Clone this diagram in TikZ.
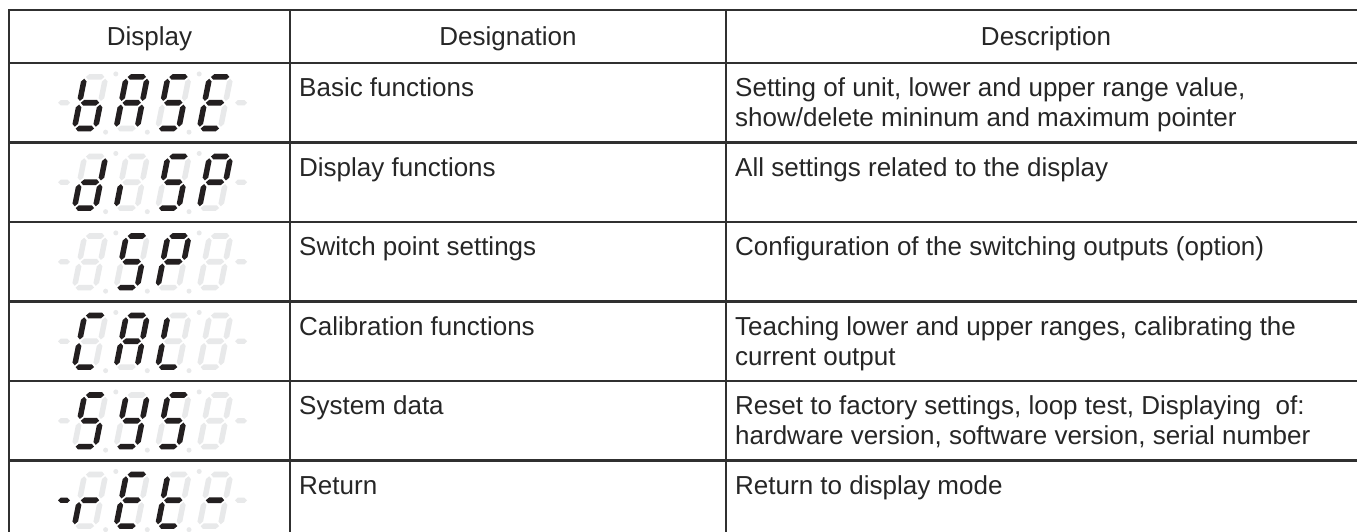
\documentclass[tikz,border=0pt]{standalone}
\usepackage{fontspec}
\setmainfont{Liberation Sans}
\definecolor{linec}{HTML}{303030}
\definecolor{txtc}{HTML}{262626}
\definecolor{segdark}{HTML}{231F20}
\definecolor{seglight}{HTML}{E8E9EA}
\makeatletter
\newcommand\segfill[3]{%
  \in@{#1}{#2}\ifin@\def\sgc{segdark}\else\def\sgc{seglight}\fi
  \fill[fill=\sgc] #3;}
\makeatother
\newcommand\sevseg[2]{%
  \begin{scope}[shift={(#1,0)},xslant=0.2]
    \segfill{a}{#2}{(-9.2,-25.8) -- (-6.4,-28.6) -- (6.4,-28.6) -- (9.2,-25.8) -- (6.4,-23.0) -- (-6.4,-23.0) -- cycle}
    \segfill{g}{#2}{(-9.2,0) -- (-6.4,-2.8) -- (6.4,-2.8) -- (9.2,0) -- (6.4,2.8) -- (-6.4,2.8) -- cycle}
    \segfill{d}{#2}{(-9.2,25.8) -- (-6.4,23.0) -- (6.4,23.0) -- (9.2,25.8) -- (6.4,28.6) -- (-6.4,28.6) -- cycle}
    \segfill{f}{#2}{(-10.5,-24.0) -- (-7.7,-21.2) -- (-7.7,-4.6) -- (-10.5,-1.8) -- (-13.3,-4.6) -- (-13.3,-21.2) -- cycle}
    \segfill{b}{#2}{(10.5,-24.0) -- (13.3,-21.2) -- (13.3,-4.6) -- (10.5,-1.8) -- (7.7,-4.6) -- (7.7,-21.2) -- cycle}
    \segfill{e}{#2}{(-10.5,1.8) -- (-7.7,4.6) -- (-7.7,21.2) -- (-10.5,24.0) -- (-13.3,21.2) -- (-13.3,4.6) -- cycle}
    \segfill{c}{#2}{(10.5,1.8) -- (13.3,4.6) -- (13.3,21.2) -- (10.5,24.0) -- (7.7,21.2) -- (7.7,4.6) -- cycle}
  \end{scope}}
\newcommand\disprow[6]{%
  \begin{scope}[shift={(0,#1)}]
    \fill[fill=#2] (58,0) -- (60.6,-2.6) -- (67.4,-2.6) -- (70,0) -- (67.4,2.6) -- (60.6,2.6) -- cycle;
    \fill[seglight] (235,0) -- (237.6,-2.6) -- (244.4,-2.6) -- (247,0) -- (244.4,2.6) -- (237.6,2.6) -- cycle;
    \fill[seglight] (115.8,-28.8) circle[radius=2.5pt];
    \fill[seglight] (199.2,-28.8) circle[radius=2.5pt];
    \fill[seglight] (105.6,29.4) circle[radius=2.5pt];
    \fill[seglight] (147.3,29.4) circle[radius=2.5pt];
    \fill[seglight] (189.0,29.4) circle[radius=2.5pt];
    \sevseg{90}{#3}
    \sevseg{131.7}{#4}
    \sevseg{173.3}{#5}
    \sevseg{215}{#6}
  \end{scope}}
\begin{document}
\begin{tikzpicture}[x=1pt,y=-1pt,
  every node/.style={inner sep=0pt, text=txtc, font=\fontsize{26}{30}\selectfont},
  head/.style={anchor=base},
  cell/.style={anchor=base west, align=left},
  grid/.style={draw=linec, line width=2.6pt}]
\useasboundingbox (0,0) rectangle (1357,532);
\clip (0,0) rectangle (1357,532);
\fill[white] (0,0) rectangle (1357,532);
% grid
\draw[grid] (9,10) rectangle (1366,540);
\foreach \yy in {63,142.5,222,301.5,381,460.5} \draw[grid] (9,\yy) -- (1366,\yy);
\foreach \xx in {290,726} \draw[grid] (\xx,10) -- (\xx,540);
% header
\node[head] (h1) at (149.5,46) {Display};
\node[head] (h2) at (508,46) {Designation};
\node[head] (h3) at (1046,46) {Description};
% rows (multi-line nodes: base = last line)
\node[cell] (n1) at (299,96.5) {Basic functions};
\node[cell] (m1) at (735,126.5) {Setting of unit, lower and upper range value,\\show/delete mininum and maximum pointer};
\node[cell] (n2) at (299,176) {Display functions};
\node[cell] (m2) at (735,176) {All settings related to the display};
\node[cell] (n3) at (299,255.5) {Switch point settings};
\node[cell] (m3) at (735,255.5) {Configuration of the switching outputs (option)};
\node[cell] (n4) at (299,335) {Calibration functions};
\node[cell] (m4) at (735,365) {Teaching lower and upper ranges, calibrating the\\current output};
\node[cell] (n5) at (299,414.5) {System data};
\node[cell] (m5) at (735,444.5) {Reset to factory settings, loop test, Displaying\ \ of:\\hardware version, software version, serial number};
\node[cell] (n6) at (299,494) {Return};
\node[cell] (m6) at (735,494) {Return to display mode};
% displays
\disprow{102.75}{seglight}{c,d,e,f,g}{a,b,c,e,f,g}{a,c,d,f,g}{a,d,e,f,g}
\disprow{182.25}{seglight}{b,c,d,e,g}{e}{a,c,d,f,g}{a,b,e,f,g}
\disprow{261.75}{seglight}{}{a,c,d,f,g}{a,b,e,f,g}{}
\disprow{341.25}{seglight}{a,d,e,f}{a,b,c,e,f,g}{d,e,f}{}
\disprow{420.75}{seglight}{a,c,d,f,g}{b,c,d,f,g}{a,c,d,f,g}{}
\disprow{500.25}{segdark}{e,g}{a,d,e,f,g}{d,e,f,g}{g}
\end{tikzpicture}
\end{document}
